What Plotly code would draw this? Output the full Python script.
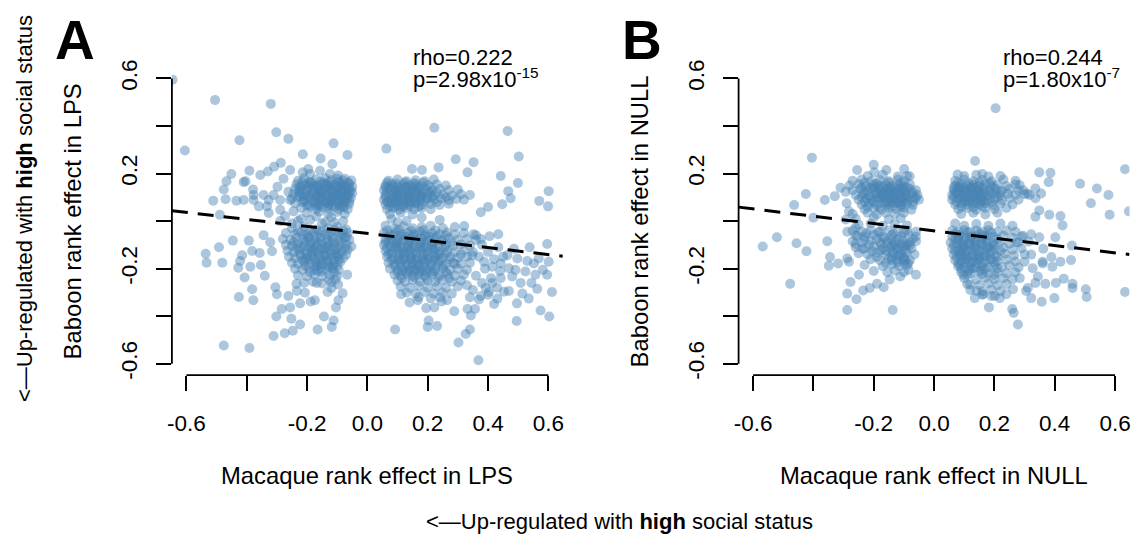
import plotly.graph_objects as go

# ---------------------------------------------------------------
# Gene-level rank effects: (macaque effect, baboon effect)
# ---------------------------------------------------------------
lps_points = [
    # scattered genes, upper half
    (-0.646, 0.595), (-0.505, 0.509), (-0.320, 0.493), (-0.605, 0.297), (-0.302, 0.374),
    (-0.262, 0.346), (-0.424, 0.340), (-0.112, 0.327), (-0.214, 0.281), (-0.155, 0.263),
    (-0.066, 0.278), (-0.287, 0.245), (-0.309, 0.229), (-0.116, 0.240), (-0.196, 0.219),
    (-0.451, 0.198), (-0.391, 0.212), (-0.355, 0.194), (-0.330, 0.209), (-0.256, 0.215),
    (-0.467, 0.168), (-0.476, 0.133), (-0.511, 0.086), (-0.470, 0.092), (-0.434, 0.086),
    (-0.410, 0.164), (-0.489, 0.027),
    (0.222, 0.393), (0.465, 0.379), (0.063, 0.305), (0.502, 0.272), (0.293, 0.260),
    (0.352, 0.248), (0.236, 0.226), (0.148, 0.219), (0.181, 0.215), (0.332, 0.205),
    (0.442, 0.190), (0.499, 0.160), (0.467, 0.126), (0.601, 0.126), (0.570, 0.085),
    (0.599, 0.062), (0.447, 0.071), (0.475, 0.096), (0.400, 0.059), (0.376, 0.037),
    # scattered genes, lower left
    (-0.536, -0.137), (-0.533, -0.175), (-0.481, -0.175), (-0.492, -0.110), (-0.446, -0.082),
    (-0.393, -0.082), (-0.415, -0.144), (-0.422, -0.168), (-0.428, -0.196), (-0.382, -0.126),
    (-0.357, -0.134), (-0.388, -0.192), (-0.353, -0.185), (-0.407, -0.237), (-0.382, -0.287),
    (-0.378, -0.333), (-0.426, -0.319), (-0.340, -0.230), (-0.316, -0.127), (-0.322, -0.089),
    (-0.344, -0.059), (-0.305, -0.278), (-0.300, -0.308), (-0.284, -0.370), (-0.302, -0.401),
    (-0.256, -0.363), (-0.252, -0.411), (-0.223, -0.435), (-0.311, -0.483), (-0.274, -0.472),
    (-0.247, -0.461), (-0.476, -0.523), (-0.391, -0.534), (-0.165, -0.456), (-0.144, -0.401),
    (-0.118, -0.445), (-0.112, -0.418), (-0.188, -0.338), (-0.174, -0.333), (-0.104, -0.363),
    (-0.096, -0.333), (-0.082, -0.304), (-0.207, -0.301), (-0.234, -0.294), (-0.223, -0.346),
    (-0.262, -0.315), (-0.235, -0.264), (-0.168, -0.260), (-0.127, -0.246), (-0.106, -0.246),
    (-0.119, -0.281), (-0.132, -0.298), (-0.067, -0.226), (-0.097, -0.267), (-0.053, -0.107),
    (-0.069, -0.068),
    # scattered genes, lower right
    (0.092, -0.456), (0.200, -0.445), (0.203, -0.418), (0.231, -0.441), (0.302, -0.511),
    (0.326, -0.475), (0.368, -0.585), (0.340, -0.456), (0.332, -0.370), (0.357, -0.370),
    (0.343, -0.397), (0.288, -0.379), (0.246, -0.338), (0.264, -0.333), (0.195, -0.366),
    (0.222, -0.363), (0.140, -0.342), (0.167, -0.333), (0.112, -0.308), (0.495, -0.420),
    (0.574, -0.376), (0.603, -0.401), (0.535, -0.326), (0.496, -0.346), (0.431, -0.326),
    (0.420, -0.349), (0.453, -0.297), (0.469, -0.294), (0.514, -0.305), (0.612, -0.298),
    (0.563, -0.285), (0.544, -0.260), (0.508, -0.260), (0.480, -0.233), (0.442, -0.240),
    (0.414, -0.260), (0.392, -0.281), (0.376, -0.315), (0.403, -0.298), (0.601, -0.171),
    (0.596, -0.096), (0.538, -0.110), (0.568, -0.157), (0.552, -0.178), (0.530, -0.168),
    (0.582, -0.205), (0.596, -0.226), (0.557, -0.226), (0.524, -0.212), (0.491, -0.205),
    (0.497, -0.157), (0.486, -0.116), (0.464, -0.144), (0.434, -0.110), (0.434, -0.055),
    (0.405, -0.064), (0.469, -0.198), (0.442, -0.178), (0.414, -0.192), (0.387, -0.171),
    (0.348, -0.144), (0.321, -0.021), (0.352, -0.055), (0.376, -0.075),
    (0.36, -0.06), (0.38, -0.10), (0.40, -0.13), (0.37, -0.15), (0.39, -0.20), (0.36, -0.23),
    (0.41, -0.24), (0.38, -0.26), (0.43, -0.28), (0.35, -0.29), (0.42, -0.16), (0.44, -0.21),
    (0.37, -0.33), (0.40, -0.31), (0.45, -0.15), (0.33, -0.27), (0.34, -0.32),
    # upper left group
    (-0.404, 0.168), (-0.379, 0.133), (-0.377, 0.110), (-0.344, 0.110), (-0.327, 0.089),
    (-0.311, 0.110), (-0.298, 0.144), (-0.278, 0.178), (-0.262, 0.123), (-0.289, 0.089),
    (-0.256, 0.089), (-0.377, 0.089), (-0.410, 0.089), (-0.360, 0.062), (-0.333, 0.062),
    (-0.289, 0.048), (-0.245, 0.041), (-0.273, 0.021), (-0.289, 0.000), (-0.327, 0.034),
    (-0.214, 0.205), (-0.190, 0.198), (-0.157, 0.212), (-0.124, 0.198), (-0.097, 0.192),
    (-0.075, 0.178), (-0.053, 0.171),
    (-0.21, 0.18), (-0.17, 0.175), (-0.14, 0.18), (-0.12, 0.172), (-0.10, 0.178), (-0.08, 0.17),
    (-0.23, 0.17), (-0.19, 0.165),
    (-0.235, 0.155), (-0.21, 0.15), (-0.19, 0.158), (-0.165, 0.152), (-0.145, 0.16), (-0.125, 0.15),
    (-0.11, 0.155), (-0.09, 0.16), (-0.075, 0.15), (-0.06, 0.158),
    (-0.24, 0.135), (-0.22, 0.14), (-0.20, 0.13), (-0.18, 0.138), (-0.16, 0.13), (-0.14, 0.14),
    (-0.12, 0.132), (-0.10, 0.14), (-0.085, 0.13), (-0.07, 0.138), (-0.055, 0.13),
    (-0.245, 0.115), (-0.225, 0.12), (-0.205, 0.11), (-0.185, 0.118), (-0.165, 0.112), (-0.15, 0.12),
    (-0.13, 0.11), (-0.11, 0.118), (-0.095, 0.11), (-0.08, 0.12), (-0.065, 0.112), (-0.05, 0.118),
    (-0.25, 0.095), (-0.23, 0.10), (-0.21, 0.09), (-0.19, 0.098), (-0.17, 0.092), (-0.155, 0.10),
    (-0.135, 0.09), (-0.12, 0.098), (-0.10, 0.092), (-0.085, 0.10), (-0.07, 0.09), (-0.055, 0.098),
    (-0.24, 0.075), (-0.215, 0.08), (-0.195, 0.07), (-0.175, 0.078), (-0.16, 0.07), (-0.14, 0.08),
    (-0.125, 0.072), (-0.105, 0.078), (-0.09, 0.07), (-0.075, 0.08), (-0.06, 0.072),
    (-0.22, 0.055), (-0.19, 0.06), (-0.17, 0.05), (-0.15, 0.058), (-0.13, 0.052), (-0.11, 0.06),
    (-0.095, 0.05), (-0.078, 0.058), (-0.065, 0.05),
    (-0.20, 0.035), (-0.16, 0.04), (-0.13, 0.03), (-0.10, 0.038), (-0.075, 0.03),
    (-0.225, 0.13), (-0.20, 0.155), (-0.175, 0.145), (-0.155, 0.125), (-0.135, 0.155), (-0.115, 0.125),
    (-0.095, 0.145), (-0.075, 0.125), (-0.06, 0.14), (-0.215, 0.105), (-0.18, 0.105), (-0.16, 0.085),
    (-0.14, 0.105), (-0.12, 0.085), (-0.10, 0.105), (-0.08, 0.085), (-0.065, 0.105), (-0.17, 0.065),
    (-0.13, 0.065), (-0.09, 0.062),
    (-0.215, 0.166), (-0.185, 0.162), (-0.155, 0.167), (-0.125, 0.163), (-0.095, 0.166), (-0.065, 0.162),
    (-0.225, 0.146), (-0.195, 0.143), (-0.165, 0.147), (-0.135, 0.143), (-0.105, 0.147), (-0.05, 0.144),
    (-0.21, 0.126), (-0.18, 0.123), (-0.15, 0.127), (-0.12, 0.123), (-0.09, 0.127), (-0.06, 0.122),
    (-0.225, 0.106), (-0.195, 0.103), (-0.165, 0.107), (-0.135, 0.103), (-0.105, 0.107), (-0.075, 0.103),
    (-0.21, 0.086), (-0.18, 0.083), (-0.15, 0.087), (-0.12, 0.083), (-0.09, 0.087), (-0.06, 0.084),
    (-0.20, 0.066), (-0.16, 0.063), (-0.12, 0.067), (-0.08, 0.064),
    (-0.165, 0.137), (-0.145, 0.117), (-0.125, 0.137), (-0.105, 0.117), (-0.085, 0.137),
    (-0.155, 0.097), (-0.115, 0.097), (-0.075, 0.097), (-0.135, 0.077), (-0.095, 0.077),
    (-0.145, 0.157), (-0.085, 0.152),
    (-0.22, 0.01), (-0.17, 0.02), (-0.12, 0.015), (-0.08, 0.0), (-0.25, -0.01), (-0.14, -0.005),
    (-0.23, 0.0), (-0.19, 0.005), (-0.15, -0.01), (-0.11, -0.005),
    # lower left group
    (-0.25, -0.03), (-0.21, -0.025), (-0.17, -0.035), (-0.13, -0.03), (-0.10, -0.025), (-0.07, -0.035),
    (-0.27, -0.05), (-0.24, -0.055), (-0.22, -0.045), (-0.20, -0.055), (-0.18, -0.05), (-0.16, -0.045),
    (-0.14, -0.055), (-0.12, -0.05), (-0.10, -0.045), (-0.085, -0.055), (-0.065, -0.05),
    (-0.28, -0.075), (-0.255, -0.08), (-0.235, -0.07), (-0.215, -0.078), (-0.195, -0.072),
    (-0.175, -0.08), (-0.155, -0.07), (-0.135, -0.078), (-0.115, -0.072), (-0.095, -0.08),
    (-0.075, -0.07), (-0.06, -0.078),
    (-0.27, -0.10), (-0.25, -0.105), (-0.23, -0.095), (-0.21, -0.102), (-0.19, -0.097), (-0.17, -0.105),
    (-0.15, -0.098), (-0.13, -0.104), (-0.11, -0.096), (-0.09, -0.103), (-0.07, -0.098),
    (-0.265, -0.125), (-0.245, -0.13), (-0.225, -0.12), (-0.205, -0.128), (-0.185, -0.122),
    (-0.165, -0.13), (-0.145, -0.12), (-0.125, -0.128), (-0.105, -0.122), (-0.085, -0.13),
    (-0.065, -0.12),
    (-0.26, -0.15), (-0.24, -0.155), (-0.22, -0.145), (-0.20, -0.152), (-0.18, -0.148), (-0.16, -0.155),
    (-0.14, -0.146), (-0.12, -0.152), (-0.10, -0.148), (-0.08, -0.155),
    (-0.25, -0.175), (-0.23, -0.18), (-0.21, -0.17), (-0.19, -0.178), (-0.17, -0.172), (-0.15, -0.18),
    (-0.13, -0.17), (-0.11, -0.178), (-0.09, -0.172),
    (-0.24, -0.20), (-0.215, -0.205), (-0.195, -0.197), (-0.175, -0.205), (-0.155, -0.198),
    (-0.135, -0.205), (-0.115, -0.20), (-0.095, -0.205),
    (-0.23, -0.228), (-0.20, -0.232), (-0.175, -0.225), (-0.15, -0.232), (-0.125, -0.226), (-0.10, -0.23),
    (-0.21, -0.26), (-0.18, -0.255), (-0.15, -0.262), (-0.12, -0.258),
    (-0.21, -0.06), (-0.17, -0.065), (-0.13, -0.062), (-0.09, -0.065), (-0.22, -0.11), (-0.18, -0.115),
    (-0.14, -0.112), (-0.10, -0.115), (-0.20, -0.138), (-0.16, -0.14), (-0.12, -0.138), (-0.19, -0.16),
    (-0.15, -0.165), (-0.11, -0.162), (-0.17, -0.19), (-0.13, -0.188),
    (-0.23, -0.04), (-0.19, -0.038), (-0.15, -0.042), (-0.11, -0.038), (-0.08, -0.041),
    (-0.245, -0.09), (-0.205, -0.087), (-0.165, -0.091), (-0.125, -0.088), (-0.085, -0.09),
    (-0.235, -0.114), (-0.195, -0.112), (-0.155, -0.116), (-0.115, -0.112), (-0.075, -0.115),
    (-0.225, -0.14), (-0.185, -0.137), (-0.145, -0.141), (-0.105, -0.138), (-0.07, -0.141),
    (-0.215, -0.165), (-0.175, -0.162), (-0.135, -0.166), (-0.095, -0.163),
    (-0.205, -0.19), (-0.165, -0.187), (-0.125, -0.191), (-0.10, -0.188),
    (-0.19, -0.215), (-0.15, -0.212), (-0.11, -0.216),
    (-0.195, -0.065), (-0.155, -0.085), (-0.115, -0.085), (-0.175, -0.125), (-0.135, -0.145),
    (-0.095, -0.14), (-0.155, -0.18), (-0.115, -0.19), (-0.185, -0.09), (-0.135, -0.11),
    (-0.205, -0.16), (-0.165, -0.21),
    # upper right group
    (0.08, 0.01), (0.13, 0.0), (0.18, 0.015), (0.24, 0.005), (0.10, -0.005),
    (0.07, 0.17), (0.10, 0.175), (0.13, 0.168), (0.16, 0.172), (0.19, 0.168), (0.22, 0.175),
    (0.06, 0.15), (0.08, 0.155), (0.10, 0.148), (0.12, 0.155), (0.14, 0.15), (0.16, 0.155),
    (0.18, 0.148), (0.20, 0.152), (0.23, 0.155), (0.26, 0.15),
    (0.055, 0.13), (0.075, 0.135), (0.095, 0.128), (0.115, 0.135), (0.135, 0.13), (0.155, 0.135),
    (0.175, 0.128), (0.195, 0.133), (0.215, 0.128), (0.24, 0.135), (0.27, 0.13), (0.30, 0.133),
    (0.06, 0.11), (0.08, 0.115), (0.10, 0.108), (0.12, 0.115), (0.14, 0.11), (0.16, 0.115),
    (0.18, 0.108), (0.20, 0.113), (0.22, 0.108), (0.25, 0.112), (0.28, 0.108), (0.31, 0.113),
    (0.34, 0.11),
    (0.055, 0.09), (0.075, 0.095), (0.095, 0.088), (0.115, 0.095), (0.135, 0.09), (0.155, 0.095),
    (0.175, 0.088), (0.195, 0.093), (0.22, 0.09), (0.245, 0.095), (0.27, 0.088), (0.295, 0.093),
    (0.32, 0.09),
    (0.06, 0.07), (0.08, 0.075), (0.10, 0.068), (0.12, 0.075), (0.14, 0.07), (0.16, 0.075),
    (0.18, 0.068), (0.21, 0.072), (0.24, 0.068), (0.27, 0.073),
    (0.065, 0.05), (0.085, 0.055), (0.105, 0.048), (0.13, 0.055), (0.155, 0.05), (0.18, 0.055),
    (0.21, 0.05), (0.075, 0.03), (0.11, 0.035), (0.15, 0.028),
    (0.07, 0.14), (0.09, 0.12), (0.11, 0.14), (0.13, 0.12), (0.15, 0.14), (0.085, 0.10),
    (0.105, 0.08), (0.125, 0.10), (0.145, 0.08), (0.165, 0.10), (0.07, 0.08), (0.09, 0.06),
    (0.185, 0.12), (0.20, 0.095),
    (0.065, 0.162), (0.095, 0.158), (0.125, 0.163), (0.155, 0.159), (0.185, 0.162),
    (0.06, 0.142), (0.09, 0.139), (0.13, 0.143), (0.17, 0.139), (0.21, 0.142),
    (0.065, 0.122), (0.105, 0.119), (0.145, 0.123), (0.165, 0.118), (0.205, 0.122), (0.23, 0.119),
    (0.06, 0.102), (0.10, 0.099), (0.14, 0.103), (0.18, 0.099), (0.215, 0.102), (0.26, 0.099),
    (0.065, 0.082), (0.09, 0.079), (0.13, 0.083), (0.16, 0.079), (0.19, 0.082), (0.23, 0.079),
    (0.075, 0.062), (0.115, 0.059), (0.14, 0.063), (0.17, 0.06),
    (0.085, 0.145), (0.105, 0.125), (0.125, 0.145), (0.145, 0.125), (0.165, 0.145),
    (0.095, 0.105), (0.115, 0.085), (0.135, 0.105), (0.155, 0.085), (0.175, 0.105),
    (0.08, 0.09), (0.12, 0.065),
    # lower right group
    (0.06, -0.02), (0.09, -0.03), (0.12, -0.022), (0.15, -0.03), (0.18, -0.025), (0.21, -0.02),
    (0.25, -0.03), (0.29, -0.025),
    (0.055, -0.05), (0.075, -0.055), (0.095, -0.045), (0.115, -0.055), (0.135, -0.05), (0.155, -0.055),
    (0.175, -0.045), (0.195, -0.055), (0.215, -0.05), (0.24, -0.055), (0.265, -0.048), (0.29, -0.055),
    (0.32, -0.05),
    (0.06, -0.075), (0.08, -0.08), (0.10, -0.072), (0.12, -0.08), (0.14, -0.075), (0.16, -0.08),
    (0.18, -0.072), (0.20, -0.08), (0.22, -0.075), (0.245, -0.08), (0.27, -0.072), (0.30, -0.078),
    (0.33, -0.075), (0.36, -0.08),
    (0.055, -0.10), (0.075, -0.105), (0.095, -0.097), (0.115, -0.105), (0.135, -0.10), (0.155, -0.105),
    (0.175, -0.097), (0.195, -0.103), (0.215, -0.098), (0.235, -0.105), (0.26, -0.10), (0.285, -0.105),
    (0.31, -0.098), (0.34, -0.103),
    (0.06, -0.125), (0.08, -0.13), (0.10, -0.122), (0.12, -0.13), (0.14, -0.125), (0.16, -0.13),
    (0.18, -0.122), (0.20, -0.128), (0.22, -0.122), (0.24, -0.13), (0.265, -0.125), (0.29, -0.13),
    (0.32, -0.124), (0.35, -0.13),
    (0.065, -0.15), (0.085, -0.155), (0.105, -0.148), (0.125, -0.155), (0.145, -0.15), (0.165, -0.155),
    (0.185, -0.148), (0.205, -0.153), (0.225, -0.148), (0.25, -0.155), (0.275, -0.15), (0.30, -0.155),
    (0.33, -0.15),
    (0.07, -0.175), (0.09, -0.18), (0.11, -0.172), (0.13, -0.18), (0.15, -0.175), (0.17, -0.18),
    (0.19, -0.172), (0.21, -0.178), (0.235, -0.172), (0.26, -0.18), (0.285, -0.175), (0.31, -0.18),
    (0.34, -0.175),
    (0.075, -0.20), (0.10, -0.205), (0.12, -0.197), (0.14, -0.205), (0.16, -0.20), (0.18, -0.205),
    (0.20, -0.197), (0.225, -0.203), (0.25, -0.198), (0.275, -0.205), (0.30, -0.20), (0.33, -0.205),
    (0.09, -0.225), (0.11, -0.23), (0.13, -0.222), (0.15, -0.23), (0.17, -0.225), (0.19, -0.23),
    (0.215, -0.222), (0.24, -0.228), (0.265, -0.222), (0.29, -0.23), (0.32, -0.225),
    (0.10, -0.25), (0.125, -0.255), (0.15, -0.248), (0.175, -0.255), (0.20, -0.25), (0.225, -0.255),
    (0.25, -0.248), (0.28, -0.255), (0.31, -0.25),
    (0.11, -0.275), (0.14, -0.28), (0.17, -0.272), (0.20, -0.28), (0.23, -0.275), (0.26, -0.28),
    (0.30, -0.275),
    (0.13, -0.30), (0.16, -0.305), (0.19, -0.298), (0.22, -0.305), (0.25, -0.30), (0.28, -0.305),
    (0.17, -0.32), (0.21, -0.325), (0.24, -0.32),
    (0.07, -0.09), (0.09, -0.115), (0.11, -0.09), (0.13, -0.115), (0.15, -0.09), (0.17, -0.115),
    (0.19, -0.09), (0.21, -0.115), (0.08, -0.14), (0.10, -0.165), (0.12, -0.14), (0.14, -0.165),
    (0.16, -0.14), (0.18, -0.165), (0.20, -0.14), (0.22, -0.165), (0.24, -0.14), (0.11, -0.19),
    (0.13, -0.215), (0.15, -0.19), (0.17, -0.215), (0.19, -0.19), (0.21, -0.215), (0.23, -0.19),
    (0.27, -0.24), (0.29, -0.18), (0.31, -0.14),
    (0.065, -0.04), (0.105, -0.037), (0.145, -0.041), (0.185, -0.038), (0.225, -0.04),
    (0.07, -0.064), (0.11, -0.061), (0.15, -0.065), (0.19, -0.062), (0.23, -0.064), (0.26, -0.061),
    (0.06, -0.089), (0.10, -0.086), (0.14, -0.09), (0.18, -0.087), (0.22, -0.089), (0.25, -0.086),
    (0.28, -0.09),
    (0.065, -0.114), (0.105, -0.111), (0.145, -0.115), (0.185, -0.112), (0.225, -0.114), (0.255, -0.111),
    (0.07, -0.139), (0.11, -0.136), (0.15, -0.14), (0.19, -0.137), (0.23, -0.139), (0.26, -0.136),
    (0.08, -0.164), (0.12, -0.161), (0.16, -0.165), (0.20, -0.162), (0.24, -0.164), (0.27, -0.161),
    (0.09, -0.189), (0.13, -0.186), (0.17, -0.19), (0.21, -0.187), (0.25, -0.189),
    (0.10, -0.214), (0.14, -0.211), (0.18, -0.215), (0.22, -0.212), (0.26, -0.214),
    (0.115, -0.239), (0.155, -0.236), (0.195, -0.24), (0.235, -0.237),
    (0.085, -0.06), (0.125, -0.065), (0.165, -0.06), (0.205, -0.065), (0.095, -0.11),
    (0.135, -0.108), (0.175, -0.11), (0.215, -0.107), (0.105, -0.16), (0.145, -0.158),
    (0.185, -0.16), (0.225, -0.157), (0.115, -0.21), (0.155, -0.207), (0.195, -0.21),
    (0.085, -0.085), (0.125, -0.135), (0.165, -0.185),
]

null_points = [
    # scattered genes
    (0.204, 0.475), (-0.405, 0.267), (0.136, 0.253), (-0.200, 0.237), (-0.158, 0.215),
    (-0.099, 0.219), (-0.081, 0.189), (-0.255, 0.215), (-0.198, 0.205), (0.078, 0.196),
    (0.160, 0.198), (0.349, 0.205), (0.386, 0.203), (0.380, 0.164), (0.633, 0.218),
    (0.484, 0.157), (0.540, 0.137), (0.578, 0.110), (0.520, 0.075), (0.582, 0.027),
    (0.646, 0.041), (-0.425, 0.114), (-0.464, 0.068), (-0.362, 0.089), (-0.400, 0.014),
    (-0.329, 0.105),
    (-0.568, -0.107), (-0.521, -0.068), (-0.456, -0.093), (-0.423, -0.127), (-0.477, -0.264),
    (-0.354, -0.085), (-0.345, -0.151), (-0.349, -0.188), (-0.318, -0.178), (-0.288, -0.157),
    (-0.282, -0.171), (-0.288, -0.305), (-0.257, -0.329), (-0.288, -0.374), (-0.249, -0.226),
    (-0.277, -0.256), (-0.235, -0.292), (-0.213, -0.281), (-0.189, -0.264), (-0.167, -0.278),
    (-0.137, -0.374), (-0.147, -0.246), (-0.112, -0.233), (-0.085, -0.205), (-0.060, -0.226),
    (0.135, -0.324), (0.182, -0.363), (0.259, -0.370), (0.264, -0.386), (0.278, -0.435),
    (0.322, -0.324), (0.357, -0.339), (0.399, -0.324), (0.311, -0.281), (0.336, -0.260),
    (0.369, -0.264), (0.404, -0.260), (0.430, -0.242), (0.459, -0.264), (0.459, -0.281),
    (0.503, -0.287), (0.506, -0.319), (0.633, -0.298),
    (0.389, -0.151), (0.419, -0.171), (0.392, -0.192), (0.457, -0.103), (0.454, -0.164),
    (0.360, -0.171), (0.402, -0.068), (0.426, -0.018), (0.419, 0.021), (0.382, 0.027),
    (0.336, 0.018), (0.349, 0.045), (0.322, -0.055), (0.314, -0.086), (0.349, -0.068),
    (0.362, -0.116),
    # upper left group
    (-0.293, 0.123), (-0.290, 0.075), (-0.282, 0.041), (-0.293, 0.007), (-0.31, 0.14),
    (-0.22, 0.19), (-0.17, 0.195), (-0.12, 0.188), (-0.09, 0.19),
    (-0.27, 0.17), (-0.24, 0.175), (-0.21, 0.168), (-0.18, 0.173), (-0.15, 0.168), (-0.12, 0.175),
    (-0.10, 0.168),
    (-0.28, 0.15), (-0.25, 0.155), (-0.225, 0.148), (-0.20, 0.155), (-0.18, 0.15), (-0.16, 0.155),
    (-0.14, 0.148), (-0.12, 0.153), (-0.10, 0.148), (-0.08, 0.155),
    (-0.27, 0.13), (-0.245, 0.135), (-0.22, 0.128), (-0.20, 0.135), (-0.18, 0.13), (-0.16, 0.135),
    (-0.14, 0.128), (-0.12, 0.133), (-0.10, 0.128), (-0.08, 0.135), (-0.06, 0.13),
    (-0.26, 0.11), (-0.235, 0.115), (-0.215, 0.108), (-0.195, 0.115), (-0.175, 0.11), (-0.155, 0.115),
    (-0.135, 0.108), (-0.115, 0.113), (-0.095, 0.108), (-0.075, 0.115), (-0.055, 0.11),
    (-0.25, 0.09), (-0.225, 0.095), (-0.205, 0.088), (-0.185, 0.095), (-0.165, 0.09), (-0.145, 0.095),
    (-0.125, 0.088), (-0.105, 0.093), (-0.085, 0.088), (-0.065, 0.095), (-0.05, 0.09),
    (-0.24, 0.07), (-0.215, 0.075), (-0.19, 0.068), (-0.17, 0.075), (-0.15, 0.07), (-0.13, 0.075),
    (-0.11, 0.068), (-0.09, 0.073), (-0.07, 0.068),
    (-0.23, 0.05), (-0.20, 0.055), (-0.175, 0.048), (-0.15, 0.055), (-0.125, 0.05), (-0.10, 0.055),
    (-0.075, 0.048),
    (-0.27, 0.03), (-0.22, 0.035), (-0.19, 0.028), (-0.16, 0.035), (-0.13, 0.03), (-0.10, 0.035),
    (-0.26, 0.01), (-0.20, 0.015), (-0.15, 0.008), (-0.11, 0.012),
    (-0.20, 0.145), (-0.17, 0.12), (-0.15, 0.14), (-0.13, 0.12), (-0.11, 0.14), (-0.19, 0.10),
    (-0.15, 0.10), (-0.11, 0.10), (-0.09, 0.12), (-0.16, 0.08), (-0.12, 0.08),
    (-0.23, 0.161), (-0.19, 0.158), (-0.15, 0.162), (-0.11, 0.159),
    (-0.24, 0.141), (-0.21, 0.138), (-0.17, 0.142), (-0.13, 0.139), (-0.09, 0.142),
    (-0.23, 0.121), (-0.19, 0.118), (-0.15, 0.122), (-0.11, 0.119), (-0.07, 0.121),
    (-0.24, 0.101), (-0.21, 0.098), (-0.17, 0.102), (-0.13, 0.099), (-0.09, 0.101), (-0.06, 0.098),
    (-0.23, 0.081), (-0.20, 0.078), (-0.14, 0.082), (-0.10, 0.079), (-0.07, 0.081),
    (-0.22, 0.061), (-0.18, 0.058), (-0.14, 0.062), (-0.11, 0.059),
    (-0.185, 0.137), (-0.165, 0.117), (-0.145, 0.137), (-0.125, 0.117), (-0.105, 0.137),
    (-0.175, 0.097), (-0.135, 0.097), (-0.095, 0.097), (-0.155, 0.077), (-0.115, 0.077),
    # lower left group
    (-0.260, -0.027), (-0.288, -0.045), (-0.255, -0.062), (-0.260, -0.096), (-0.238, -0.116),
    (-0.25, -0.015), (-0.21, -0.01), (-0.17, -0.02), (-0.13, -0.012), (-0.09, -0.018),
    (-0.27, -0.04), (-0.24, -0.045), (-0.21, -0.038), (-0.18, -0.045), (-0.15, -0.04), (-0.12, -0.045),
    (-0.09, -0.04), (-0.06, -0.045),
    (-0.26, -0.06), (-0.23, -0.065), (-0.20, -0.058), (-0.17, -0.065), (-0.14, -0.06), (-0.11, -0.065),
    (-0.085, -0.058), (-0.06, -0.065),
    (-0.27, -0.085), (-0.24, -0.09), (-0.21, -0.082), (-0.18, -0.09), (-0.155, -0.085), (-0.13, -0.09),
    (-0.105, -0.082), (-0.08, -0.09), (-0.06, -0.085),
    (-0.26, -0.11), (-0.23, -0.115), (-0.20, -0.108), (-0.17, -0.115), (-0.145, -0.11), (-0.12, -0.115),
    (-0.10, -0.108), (-0.075, -0.115),
    (-0.25, -0.135), (-0.22, -0.14), (-0.19, -0.132), (-0.16, -0.14), (-0.135, -0.135), (-0.11, -0.14),
    (-0.09, -0.132), (-0.065, -0.14),
    (-0.21, -0.16), (-0.18, -0.165), (-0.15, -0.158), (-0.125, -0.165), (-0.10, -0.16), (-0.08, -0.165),
    (-0.23, -0.185), (-0.17, -0.19), (-0.14, -0.182), (-0.115, -0.19), (-0.09, -0.185),
    (-0.20, -0.21), (-0.155, -0.215), (-0.13, -0.208), (-0.10, -0.215),
    (-0.13, -0.10), (-0.11, -0.125), (-0.09, -0.10), (-0.12, -0.15), (-0.10, -0.175), (-0.14, -0.075),
    (-0.19, -0.075), (-0.16, -0.125),
    (-0.225, -0.051), (-0.185, -0.048), (-0.135, -0.052), (-0.10, -0.049),
    (-0.23, -0.076), (-0.165, -0.073), (-0.12, -0.077), (-0.07, -0.074),
    (-0.215, -0.101), (-0.175, -0.098), (-0.14, -0.102), (-0.11, -0.099), (-0.08, -0.101),
    (-0.205, -0.126), (-0.175, -0.123), (-0.14, -0.127), (-0.095, -0.124),
    (-0.19, -0.151), (-0.14, -0.148), (-0.10, -0.152),
    (-0.16, -0.176), (-0.12, -0.173), (-0.085, -0.177),
    (-0.155, -0.095), (-0.125, -0.115), (-0.095, -0.095), (-0.115, -0.145), (-0.095, -0.165),
    (-0.14, -0.165),
    # upper right group
    (0.336, 0.096), (0.355, 0.116), (0.336, 0.137), (0.316, 0.110), (0.295, 0.130), (0.284, 0.151),
    (0.309, 0.116),
    (0.10, 0.19), (0.14, 0.195), (0.18, 0.188), (0.22, 0.19),
    (0.07, 0.17), (0.10, 0.175), (0.13, 0.168), (0.16, 0.173), (0.19, 0.168), (0.23, 0.175), (0.27, 0.17),
    (0.07, 0.15), (0.09, 0.155), (0.11, 0.148), (0.13, 0.155), (0.15, 0.15), (0.17, 0.155),
    (0.19, 0.148), (0.21, 0.153), (0.24, 0.148), (0.27, 0.155),
    (0.065, 0.13), (0.085, 0.135), (0.105, 0.128), (0.125, 0.135), (0.145, 0.13), (0.165, 0.135),
    (0.185, 0.128), (0.205, 0.133), (0.225, 0.128), (0.25, 0.135), (0.28, 0.13),
    (0.06, 0.11), (0.08, 0.115), (0.10, 0.108), (0.12, 0.115), (0.14, 0.11), (0.16, 0.115),
    (0.18, 0.108), (0.20, 0.113), (0.22, 0.108), (0.245, 0.115), (0.27, 0.11), (0.30, 0.113),
    (0.06, 0.09), (0.08, 0.095), (0.10, 0.088), (0.12, 0.095), (0.14, 0.09), (0.16, 0.095),
    (0.18, 0.088), (0.20, 0.093), (0.225, 0.088), (0.25, 0.095), (0.28, 0.09),
    (0.07, 0.07), (0.09, 0.075), (0.11, 0.068), (0.13, 0.075), (0.15, 0.07), (0.17, 0.075),
    (0.195, 0.068), (0.22, 0.073), (0.26, 0.07),
    (0.08, 0.05), (0.11, 0.055), (0.14, 0.048), (0.17, 0.055), (0.20, 0.05), (0.24, 0.055),
    (0.09, 0.03), (0.13, 0.035), (0.17, 0.028), (0.21, 0.035),
    (0.09, 0.12), (0.11, 0.10), (0.13, 0.12), (0.15, 0.10), (0.17, 0.12), (0.08, 0.14), (0.12, 0.14),
    (0.10, 0.08), (0.14, 0.075),
    (0.08, 0.161), (0.115, 0.158), (0.15, 0.162), (0.185, 0.159),
    (0.065, 0.141), (0.10, 0.138), (0.14, 0.142), (0.16, 0.139), (0.20, 0.141),
    (0.07, 0.121), (0.11, 0.118), (0.15, 0.122), (0.19, 0.119), (0.22, 0.121),
    (0.065, 0.101), (0.09, 0.098), (0.13, 0.102), (0.17, 0.099), (0.21, 0.101),
    (0.075, 0.081), (0.12, 0.078), (0.16, 0.082), (0.19, 0.079),
    (0.09, 0.061), (0.13, 0.058), (0.16, 0.062),
    (0.085, 0.145), (0.105, 0.125), (0.125, 0.145), (0.145, 0.125), (0.095, 0.105),
    (0.115, 0.085), (0.135, 0.105), (0.155, 0.085), (0.075, 0.12),
    # lower right group
    (0.295, -0.062), (0.273, -0.089), (0.322, -0.141), (0.300, -0.171), (0.327, -0.198),
    (0.360, -0.178), (0.344, -0.233), (0.284, -0.240), (0.305, -0.294), (0.262, -0.287),
    (0.240, -0.308), (0.218, -0.324), (0.201, -0.315), (0.163, -0.308), (0.141, -0.294),
    (0.119, -0.267), (0.097, -0.226), (0.086, -0.185),
    (0.07, -0.01), (0.10, -0.02), (0.14, -0.012), (0.18, -0.02), (0.22, -0.01), (0.26, -0.02),
    (0.06, -0.04), (0.08, -0.045), (0.10, -0.038), (0.12, -0.045), (0.14, -0.04), (0.16, -0.045),
    (0.18, -0.038), (0.21, -0.045), (0.24, -0.04), (0.27, -0.045),
    (0.06, -0.065), (0.08, -0.07), (0.10, -0.062), (0.12, -0.07), (0.14, -0.065), (0.16, -0.07),
    (0.18, -0.062), (0.20, -0.068), (0.23, -0.062), (0.26, -0.07), (0.29, -0.065),
    (0.055, -0.09), (0.075, -0.095), (0.095, -0.087), (0.115, -0.095), (0.135, -0.09), (0.155, -0.095),
    (0.175, -0.087), (0.195, -0.093), (0.22, -0.087), (0.25, -0.095), (0.28, -0.09),
    (0.06, -0.115), (0.08, -0.12), (0.10, -0.112), (0.12, -0.12), (0.14, -0.115), (0.16, -0.12),
    (0.18, -0.112), (0.20, -0.118), (0.23, -0.112), (0.26, -0.12), (0.29, -0.115),
    (0.065, -0.14), (0.085, -0.145), (0.105, -0.137), (0.125, -0.145), (0.145, -0.14), (0.165, -0.145),
    (0.185, -0.137), (0.205, -0.143), (0.235, -0.137), (0.265, -0.145), (0.30, -0.14),
    (0.07, -0.165), (0.09, -0.17), (0.11, -0.162), (0.13, -0.17), (0.15, -0.165), (0.17, -0.17),
    (0.19, -0.162), (0.21, -0.168), (0.24, -0.162), (0.27, -0.17),
    (0.08, -0.19), (0.10, -0.195), (0.12, -0.187), (0.14, -0.195), (0.16, -0.19), (0.18, -0.195),
    (0.20, -0.187), (0.225, -0.193), (0.25, -0.187), (0.28, -0.195),
    (0.09, -0.215), (0.12, -0.22), (0.15, -0.212), (0.18, -0.22), (0.21, -0.215), (0.24, -0.22),
    (0.27, -0.215),
    (0.10, -0.24), (0.14, -0.245), (0.17, -0.238), (0.20, -0.245), (0.23, -0.24), (0.26, -0.245),
    (0.11, -0.265), (0.15, -0.27), (0.18, -0.262), (0.21, -0.27), (0.24, -0.265),
    (0.12, -0.29), (0.16, -0.295), (0.19, -0.288), (0.22, -0.295), (0.16, -0.31), (0.19, -0.315),
    (0.08, -0.08), (0.10, -0.10), (0.12, -0.08), (0.14, -0.10), (0.16, -0.08), (0.09, -0.13),
    (0.11, -0.15), (0.13, -0.13), (0.15, -0.15), (0.17, -0.13), (0.10, -0.175), (0.12, -0.20),
    (0.14, -0.175), (0.19, -0.105),
    (0.07, -0.051), (0.11, -0.048), (0.15, -0.052), (0.19, -0.049),
    (0.07, -0.076), (0.10, -0.073), (0.13, -0.077), (0.17, -0.074), (0.21, -0.076),
    (0.065, -0.101), (0.09, -0.098), (0.12, -0.102), (0.16, -0.099), (0.20, -0.101),
    (0.07, -0.126), (0.11, -0.123), (0.15, -0.127), (0.19, -0.124), (0.22, -0.126),
    (0.075, -0.151), (0.095, -0.148), (0.135, -0.152), (0.175, -0.149), (0.21, -0.151),
    (0.08, -0.176), (0.12, -0.173), (0.16, -0.177), (0.20, -0.174),
    (0.09, -0.201), (0.13, -0.198), (0.17, -0.202), (0.21, -0.199),
    (0.11, -0.226), (0.16, -0.223), (0.20, -0.227),
    (0.085, -0.06), (0.125, -0.065), (0.165, -0.06), (0.095, -0.11), (0.135, -0.108),
    (0.175, -0.11), (0.105, -0.16), (0.145, -0.158), (0.185, -0.16), (0.115, -0.21),
    (0.155, -0.207), (0.085, -0.135),
]

# fitted lines (intercept, slope)
lps_fit = (-0.052, -0.148)
null_fit = (-0.041, -0.154)

lps_stats = ("rho=0.222", "p=2.98x10<sup>-15</sup>")
null_stats = ("rho=0.244", "p=1.80x10<sup>-7</sup>")

tick_vals = [-0.6, -0.4, -0.2, 0.0, 0.2, 0.4, 0.6]
x_label_vals = [-0.6, -0.2, 0.0, 0.2, 0.4, 0.6]
x_label_text = ["-0.6", "-0.2", "0.0", "0.2", "0.4", "0.6"]
y_label_vals = [-0.6, -0.2, 0.2, 0.6]
y_label_text = ["-0.6", "-0.2", "0.2", "0.6"]
axis_range = [-0.648, 0.648]

W, H = 1135, 546
FONT = "Liberation Sans, Arial, Helvetica, sans-serif"
TICK_FS = 22.5
TITLE_FS = 23.8
NOTE_FS = 22
POINT_COLOR = "rgba(70,130,180,0.45)"


def px(x):
    return x / W


def py(y):
    return 1 - y / H


fig = go.Figure()

panels = [
    ("x", "y", lps_points, lps_fit),
    ("x2", "y2", null_points, null_fit),
]
for xa, ya, pts, fit in panels:
    xs = [p[0] for p in pts]
    ys = [p[1] for p in pts]
    fig.add_trace(go.Scatter(
        x=xs, y=ys, xaxis=xa, yaxis=ya, mode="markers",
        marker=dict(size=10, color=POINT_COLOR, line=dict(width=0)),
        hoverinfo="skip", showlegend=False,
    ))
    b0, b1 = fit
    fig.add_trace(go.Scatter(
        x=axis_range, y=[b0 + b1 * v for v in axis_range], xaxis=xa, yaxis=ya,
        mode="lines", line=dict(color="black", width=3, dash="16px,10px"),
        hoverinfo="skip", showlegend=False,
    ))

y_dom = [py(376.1), py(60.5)]
x_doms = [[px(167.8), px(560.8)], [px(737.5), px(1130.5)]]

axis_common = dict(
    range=axis_range, showgrid=False, zeroline=False, showline=False,
    ticks="outside", ticklen=15, tickwidth=1.8, tickcolor="black",
    tickfont=dict(family=FONT, size=TICK_FS, color="black"),
    minor=dict(tickvals=tick_vals, ticks="outside", ticklen=15, tickwidth=1.8,
               tickcolor="black", showgrid=False),
    fixedrange=True,
)
x_axis = dict(tickvals=x_label_vals, ticktext=x_label_text, ticklabelstandoff=13, **axis_common)
y_axis = dict(tickvals=y_label_vals, ticktext=y_label_text, tickangle=-90,
              ticklabelstandoff=10, **axis_common)
fig.update_layout(
    xaxis=dict(domain=x_doms[0], anchor="y", **x_axis),
    yaxis=dict(domain=y_dom, anchor="x", **y_axis),
    xaxis2=dict(domain=x_doms[1], anchor="y2", **x_axis),
    yaxis2=dict(domain=y_dom, anchor="x2", **y_axis),
)

# axis lines spanning first to last tick
shapes = []
for xa, ya in [("x", "y"), ("x2", "y2")]:
    shapes.append(dict(type="line", xref=xa, yref=f"{ya} domain", x0=tick_vals[0], x1=tick_vals[-1],
                       y0=0, y1=0, line=dict(color="black", width=1.8)))
    shapes.append(dict(type="line", xref=f"{xa} domain", yref=ya, x0=0, x1=0,
                       y0=tick_vals[0], y1=tick_vals[-1], line=dict(color="black", width=1.8)))

annotations = []


def label(text, x, y, size, angle=0, xanchor="center", bold=False):
    annotations.append(dict(
        text=f"<b>{text}</b>" if bold else text, x=px(x), y=py(y), xref="paper", yref="paper",
        xanchor=xanchor, yanchor="middle", showarrow=False, textangle=angle,
        font=dict(family=FONT, size=size, color="black"),
    ))


# panel letters
label("A", 70, 33, 55, bold=True)
label("B", 640, 33, 55, bold=True)
# axis titles
label("Macaque rank effect in LPS", 364.3, 479, TITLE_FS)
label("Macaque rank effect in NULL", 934, 479, TITLE_FS)
label("Baboon rank effect in LPS", 68, 219, TITLE_FS, angle=-90)
label("Baboon rank effect in NULL", 638, 219, TITLE_FS, angle=-90)
# correlation statistics
label(lps_stats[0], 408, 51, NOTE_FS, xanchor="left")
label(lps_stats[1], 408, 72, NOTE_FS, xanchor="left")
label(null_stats[0], 1001.5, 51, NOTE_FS, xanchor="left")
label(null_stats[1], 1001.5, 72, NOTE_FS, xanchor="left")
# direction captions
label("<—Up-regulated with <b>high</b> social status", 19, 205, NOTE_FS, angle=-90)
label("<—Up-regulated with <b>high</b> social status", 617.5, 526, NOTE_FS)

fig.update_layout(
    width=W, height=H, margin=dict(l=0, r=0, t=0, b=0),
    paper_bgcolor="white", plot_bgcolor="white",
    shapes=shapes, annotations=annotations,
    font=dict(family=FONT, size=NOTE_FS, color="black"),
)

fig.write_html("out.html")
